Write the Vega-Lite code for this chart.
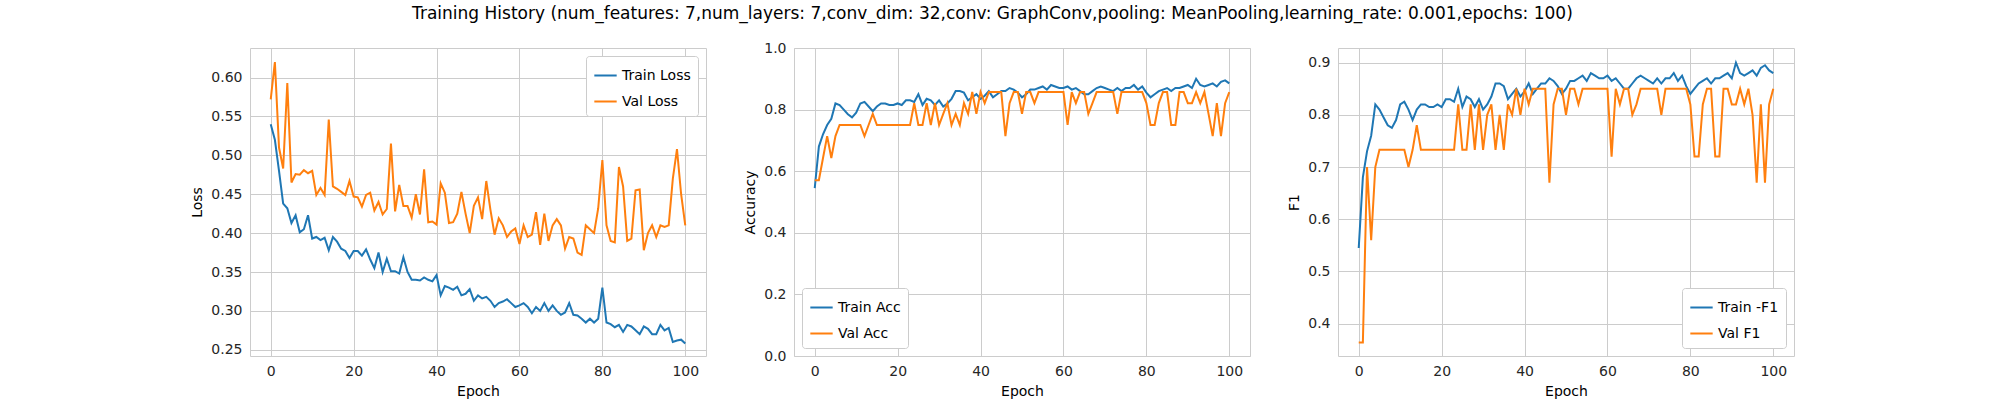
{
  "$schema": "https://vega.github.io/schema/vega-lite/v6.json",
  "background": "white",
  "padding": {"left": 190, "top": 4, "right": 10, "bottom": 10},
  "title": {"text": "Training History (num_features: 7,num_layers: 7,conv_dim: 32,conv: GraphConv,pooling: MeanPooling,learning_rate: 0.001,epochs: 100)", "fontSize": 17, "fontWeight": "normal", "font": "DejaVu Sans", "anchor": "middle", "offset": 18, "color": "#000000"},
  "config": {
    "font": "DejaVu Sans",
    "view": {"stroke": "#cccccc"},
    "axis": {"gridColor": "#cccccc", "domain": false, "ticks": false, "labelFontSize": 14, "titleFontSize": 14, "titleFontWeight": "normal", "labelColor": "#262626", "titleColor": "#000000", "labelPadding": 8, "titlePadding": 6},
    "legend": {"labelFontSize": 14, "symbolType": "stroke", "symbolStrokeWidth": 2, "symbolSize": 500, "strokeColor": "#cccccc", "fillColor": "white", "padding": 7, "cornerRadius": 3, "title": null, "rowPadding": 6, "offset": 8}
  },
  "data": {"values": [
{"e":0,"tl":0.54,"vl":0.572,"ta":0.545,"va":0.571,"tf":0.545,"vf":0.364},
{"e":1,"tl":0.52,"vl":0.62,"ta":0.68,"va":0.571,"tf":0.68,"vf":0.364},
{"e":2,"tl":0.48,"vl":0.51,"ta":0.72,"va":0.643,"tf":0.73,"vf":0.70},
{"e":3,"tl":0.438,"vl":0.483,"ta":0.75,"va":0.714,"tf":0.76,"vf":0.56},
{"e":4,"tl":0.432,"vl":0.593,"ta":0.77,"va":0.643,"tf":0.82,"vf":0.70},
{"e":5,"tl":0.413,"vl":0.465,"ta":0.82,"va":0.714,"tf":0.81,"vf":0.733},
{"e":6,"tl":0.423,"vl":0.476,"ta":0.815,"va":0.75,"tf":0.795,"vf":0.733},
{"e":7,"tl":0.401,"vl":0.475,"ta":0.80,"va":0.75,"tf":0.78,"vf":0.733},
{"e":8,"tl":0.405,"vl":0.481,"ta":0.785,"va":0.75,"tf":0.775,"vf":0.733},
{"e":9,"tl":0.423,"vl":0.477,"ta":0.775,"va":0.75,"tf":0.79,"vf":0.733},
{"e":10,"tl":0.393,"vl":0.48,"ta":0.79,"va":0.75,"tf":0.82,"vf":0.733},
{"e":11,"tl":0.395,"vl":0.449,"ta":0.82,"va":0.75,"tf":0.825,"vf":0.733},
{"e":12,"tl":0.391,"vl":0.458,"ta":0.825,"va":0.714,"tf":0.81,"vf":0.70},
{"e":13,"tl":0.394,"vl":0.449,"ta":0.81,"va":0.75,"tf":0.79,"vf":0.733},
{"e":14,"tl":0.378,"vl":0.546,"ta":0.795,"va":0.786,"tf":0.81,"vf":0.78},
{"e":15,"tl":0.395,"vl":0.46,"ta":0.81,"va":0.75,"tf":0.82,"vf":0.733},
{"e":16,"tl":0.389,"vl":0.457,"ta":0.82,"va":0.75,"tf":0.82,"vf":0.733},
{"e":17,"tl":0.38,"vl":0.453,"ta":0.82,"va":0.75,"tf":0.815,"vf":0.733},
{"e":18,"tl":0.377,"vl":0.449,"ta":0.815,"va":0.75,"tf":0.815,"vf":0.733},
{"e":19,"tl":0.368,"vl":0.467,"ta":0.815,"va":0.75,"tf":0.82,"vf":0.733},
{"e":20,"tl":0.377,"vl":0.447,"ta":0.82,"va":0.75,"tf":0.815,"vf":0.733},
{"e":21,"tl":0.377,"vl":0.446,"ta":0.815,"va":0.75,"tf":0.83,"vf":0.733},
{"e":22,"tl":0.371,"vl":0.434,"ta":0.83,"va":0.75,"tf":0.83,"vf":0.733},
{"e":23,"tl":0.379,"vl":0.449,"ta":0.83,"va":0.75,"tf":0.825,"vf":0.733},
{"e":24,"tl":0.366,"vl":0.452,"ta":0.825,"va":0.821,"tf":0.85,"vf":0.82},
{"e":25,"tl":0.355,"vl":0.429,"ta":0.85,"va":0.75,"tf":0.815,"vf":0.733},
{"e":26,"tl":0.375,"vl":0.44,"ta":0.815,"va":0.75,"tf":0.835,"vf":0.733},
{"e":27,"tl":0.35,"vl":0.424,"ta":0.835,"va":0.821,"tf":0.83,"vf":0.82},
{"e":28,"tl":0.367,"vl":0.431,"ta":0.83,"va":0.75,"tf":0.815,"vf":0.733},
{"e":29,"tl":0.351,"vl":0.515,"ta":0.815,"va":0.821,"tf":0.83,"vf":0.82},
{"e":30,"tl":0.351,"vl":0.428,"ta":0.83,"va":0.75,"tf":0.81,"vf":0.733},
{"e":31,"tl":0.348,"vl":0.462,"ta":0.81,"va":0.786,"tf":0.82,"vf":0.80},
{"e":32,"tl":0.369,"vl":0.435,"ta":0.82,"va":0.821,"tf":0.835,"vf":0.82},
{"e":33,"tl":0.35,"vl":0.435,"ta":0.835,"va":0.75,"tf":0.86,"vf":0.733},
{"e":34,"tl":0.34,"vl":0.42,"ta":0.86,"va":0.786,"tf":0.86,"vf":0.80},
{"e":35,"tl":0.34,"vl":0.45,"ta":0.86,"va":0.75,"tf":0.855,"vf":0.733},
{"e":36,"tl":0.339,"vl":0.424,"ta":0.855,"va":0.821,"tf":0.83,"vf":0.82},
{"e":37,"tl":0.343,"vl":0.482,"ta":0.83,"va":0.786,"tf":0.84,"vf":0.80},
{"e":38,"tl":0.34,"vl":0.414,"ta":0.84,"va":0.857,"tf":0.85,"vf":0.85},
{"e":39,"tl":0.338,"vl":0.415,"ta":0.85,"va":0.786,"tf":0.835,"vf":0.80},
{"e":40,"tl":0.346,"vl":0.411,"ta":0.835,"va":0.857,"tf":0.845,"vf":0.85},
{"e":41,"tl":0.32,"vl":0.464,"ta":0.845,"va":0.821,"tf":0.86,"vf":0.82},
{"e":42,"tl":0.332,"vl":0.452,"ta":0.86,"va":0.857,"tf":0.84,"vf":0.85},
{"e":43,"tl":0.33,"vl":0.413,"ta":0.84,"va":0.857,"tf":0.85,"vf":0.85},
{"e":44,"tl":0.327,"vl":0.414,"ta":0.85,"va":0.857,"tf":0.86,"vf":0.85},
{"e":45,"tl":0.331,"vl":0.425,"ta":0.86,"va":0.857,"tf":0.86,"vf":0.85},
{"e":46,"tl":0.32,"vl":0.453,"ta":0.86,"va":0.714,"tf":0.87,"vf":0.67},
{"e":47,"tl":0.322,"vl":0.425,"ta":0.87,"va":0.821,"tf":0.865,"vf":0.82},
{"e":48,"tl":0.328,"vl":0.4,"ta":0.865,"va":0.857,"tf":0.855,"vf":0.85},
{"e":49,"tl":0.313,"vl":0.435,"ta":0.855,"va":0.857,"tf":0.84,"vf":0.85},
{"e":50,"tl":0.32,"vl":0.446,"ta":0.84,"va":0.786,"tf":0.85,"vf":0.80},
{"e":51,"tl":0.316,"vl":0.418,"ta":0.85,"va":0.857,"tf":0.865,"vf":0.85},
{"e":52,"tl":0.318,"vl":0.467,"ta":0.865,"va":0.857,"tf":0.865,"vf":0.85},
{"e":53,"tl":0.313,"vl":0.43,"ta":0.865,"va":0.821,"tf":0.87,"vf":0.82},
{"e":54,"tl":0.305,"vl":0.398,"ta":0.87,"va":0.857,"tf":0.875,"vf":0.85},
{"e":55,"tl":0.31,"vl":0.419,"ta":0.875,"va":0.857,"tf":0.865,"vf":0.85},
{"e":56,"tl":0.312,"vl":0.41,"ta":0.865,"va":0.857,"tf":0.88,"vf":0.85},
{"e":57,"tl":0.315,"vl":0.395,"ta":0.88,"va":0.857,"tf":0.875,"vf":0.85},
{"e":58,"tl":0.31,"vl":0.402,"ta":0.875,"va":0.857,"tf":0.87,"vf":0.85},
{"e":59,"tl":0.305,"vl":0.406,"ta":0.87,"va":0.857,"tf":0.87,"vf":0.85},
{"e":60,"tl":0.307,"vl":0.386,"ta":0.87,"va":0.857,"tf":0.875,"vf":0.85},
{"e":61,"tl":0.31,"vl":0.41,"ta":0.875,"va":0.75,"tf":0.865,"vf":0.72},
{"e":62,"tl":0.305,"vl":0.395,"ta":0.865,"va":0.857,"tf":0.87,"vf":0.85},
{"e":63,"tl":0.297,"vl":0.398,"ta":0.87,"va":0.821,"tf":0.86,"vf":0.82},
{"e":64,"tl":0.305,"vl":0.427,"ta":0.86,"va":0.857,"tf":0.85,"vf":0.85},
{"e":65,"tl":0.3,"vl":0.385,"ta":0.85,"va":0.857,"tf":0.85,"vf":0.85},
{"e":66,"tl":0.31,"vl":0.425,"ta":0.85,"va":0.786,"tf":0.86,"vf":0.80},
{"e":67,"tl":0.3,"vl":0.39,"ta":0.86,"va":0.821,"tf":0.87,"vf":0.82},
{"e":68,"tl":0.307,"vl":0.41,"ta":0.87,"va":0.857,"tf":0.875,"vf":0.85},
{"e":69,"tl":0.3,"vl":0.418,"ta":0.875,"va":0.857,"tf":0.87,"vf":0.85},
{"e":70,"tl":0.295,"vl":0.41,"ta":0.87,"va":0.857,"tf":0.865,"vf":0.85},
{"e":71,"tl":0.298,"vl":0.38,"ta":0.865,"va":0.857,"tf":0.86,"vf":0.85},
{"e":72,"tl":0.31,"vl":0.395,"ta":0.86,"va":0.857,"tf":0.87,"vf":0.85},
{"e":73,"tl":0.295,"vl":0.393,"ta":0.87,"va":0.786,"tf":0.86,"vf":0.80},
{"e":74,"tl":0.294,"vl":0.375,"ta":0.86,"va":0.857,"tf":0.87,"vf":0.85},
{"e":75,"tl":0.29,"vl":0.372,"ta":0.87,"va":0.857,"tf":0.87,"vf":0.85},
{"e":76,"tl":0.285,"vl":0.41,"ta":0.87,"va":0.857,"tf":0.88,"vf":0.85},
{"e":77,"tl":0.29,"vl":0.405,"ta":0.88,"va":0.857,"tf":0.865,"vf":0.85},
{"e":78,"tl":0.285,"vl":0.4,"ta":0.865,"va":0.857,"tf":0.875,"vf":0.85},
{"e":79,"tl":0.29,"vl":0.432,"ta":0.875,"va":0.857,"tf":0.855,"vf":0.85},
{"e":80,"tl":0.33,"vl":0.494,"ta":0.855,"va":0.821,"tf":0.84,"vf":0.82},
{"e":81,"tl":0.285,"vl":0.41,"ta":0.84,"va":0.75,"tf":0.85,"vf":0.72},
{"e":82,"tl":0.283,"vl":0.39,"ta":0.85,"va":0.75,"tf":0.86,"vf":0.72},
{"e":83,"tl":0.279,"vl":0.388,"ta":0.86,"va":0.821,"tf":0.865,"vf":0.82},
{"e":84,"tl":0.282,"vl":0.485,"ta":0.865,"va":0.857,"tf":0.87,"vf":0.85},
{"e":85,"tl":0.273,"vl":0.46,"ta":0.87,"va":0.857,"tf":0.86,"vf":0.85},
{"e":86,"tl":0.282,"vl":0.39,"ta":0.86,"va":0.75,"tf":0.87,"vf":0.72},
{"e":87,"tl":0.28,"vl":0.393,"ta":0.87,"va":0.75,"tf":0.87,"vf":0.72},
{"e":88,"tl":0.275,"vl":0.455,"ta":0.87,"va":0.857,"tf":0.875,"vf":0.85},
{"e":89,"tl":0.27,"vl":0.456,"ta":0.875,"va":0.857,"tf":0.88,"vf":0.85},
{"e":90,"tl":0.28,"vl":0.378,"ta":0.88,"va":0.821,"tf":0.87,"vf":0.82},
{"e":91,"tl":0.277,"vl":0.40,"ta":0.87,"va":0.821,"tf":0.90,"vf":0.82},
{"e":92,"tl":0.27,"vl":0.41,"ta":0.90,"va":0.857,"tf":0.88,"vf":0.85},
{"e":93,"tl":0.27,"vl":0.395,"ta":0.88,"va":0.821,"tf":0.875,"vf":0.82},
{"e":94,"tl":0.282,"vl":0.41,"ta":0.875,"va":0.857,"tf":0.88,"vf":0.85},
{"e":95,"tl":0.275,"vl":0.408,"ta":0.88,"va":0.786,"tf":0.885,"vf":0.80},
{"e":96,"tl":0.278,"vl":0.41,"ta":0.885,"va":0.714,"tf":0.875,"vf":0.67},
{"e":97,"tl":0.26,"vl":0.47,"ta":0.875,"va":0.821,"tf":0.89,"vf":0.82},
{"e":98,"tl":0.262,"vl":0.508,"ta":0.89,"va":0.714,"tf":0.895,"vf":0.67},
{"e":99,"tl":0.263,"vl":0.45,"ta":0.895,"va":0.821,"tf":0.885,"vf":0.82},
{"e":100,"tl":0.258,"vl":0.41,"ta":0.885,"va":0.857,"tf":0.88,"vf":0.85}
  ]},
  "spacing": 36,
  "resolve": {"scale": {"color": "independent", "y": "independent"}},
  "hconcat": [
    {
      "width": 456, "height": 308,
      "transform": [{"fold": ["tl", "vl"], "as": ["k", "v"]}],
      "mark": {"type": "line", "strokeWidth": 2},
      "encoding": {
        "x": {"field": "e", "type": "quantitative", "title": "Epoch", "scale": {"domain": [-5, 105], "nice": false}, "axis": {"values": [0, 20, 40, 60, 80, 100]}},
        "y": {"field": "v", "type": "quantitative", "title": "Loss", "scale": {"domain": [0.242, 0.638], "nice": false}, "axis": {"values": [0.25, 0.3, 0.35, 0.4, 0.45, 0.5, 0.55, 0.6], "format": ".2f"}},
        "color": {"field": "k", "type": "nominal", "scale": {"domain": ["tl", "vl"], "range": ["#1f77b4", "#ff7f0e"]}, "legend": {"orient": "top-right", "labelExpr": "datum.label == 'tl' ? 'Train Loss' : 'Val Loss'"}}
      }
    },
    {
      "width": 456, "height": 308,
      "transform": [{"fold": ["ta", "va"], "as": ["k", "v"]}],
      "mark": {"type": "line", "strokeWidth": 2},
      "encoding": {
        "x": {"field": "e", "type": "quantitative", "title": "Epoch", "scale": {"domain": [-5, 105], "nice": false}, "axis": {"values": [0, 20, 40, 60, 80, 100]}},
        "y": {"field": "v", "type": "quantitative", "title": "Accuracy", "scale": {"domain": [0, 1], "nice": false}, "axis": {"values": [0, 0.2, 0.4, 0.6, 0.8, 1.0], "format": ".1f"}},
        "color": {"field": "k", "type": "nominal", "scale": {"domain": ["ta", "va"], "range": ["#1f77b4", "#ff7f0e"]}, "legend": {"orient": "bottom-left", "labelExpr": "datum.label == 'ta' ? 'Train Acc' : 'Val Acc'"}}
      }
    },
    {
      "width": 456, "height": 308,
      "transform": [{"fold": ["tf", "vf"], "as": ["k", "v"]}],
      "mark": {"type": "line", "strokeWidth": 2},
      "encoding": {
        "x": {"field": "e", "type": "quantitative", "title": "Epoch", "scale": {"domain": [-5, 105], "nice": false}, "axis": {"values": [0, 20, 40, 60, 80, 100]}},
        "y": {"field": "v", "type": "quantitative", "title": "F1", "scale": {"domain": [0.338, 0.928], "nice": false}, "axis": {"values": [0.4, 0.5, 0.6, 0.7, 0.8, 0.9], "format": ".1f"}},
        "color": {"field": "k", "type": "nominal", "scale": {"domain": ["tf", "vf"], "range": ["#1f77b4", "#ff7f0e"]}, "legend": {"orient": "bottom-right", "labelExpr": "datum.label == 'tf' ? 'Train -F1' : 'Val F1'"}}
      }
    }
  ]
}
